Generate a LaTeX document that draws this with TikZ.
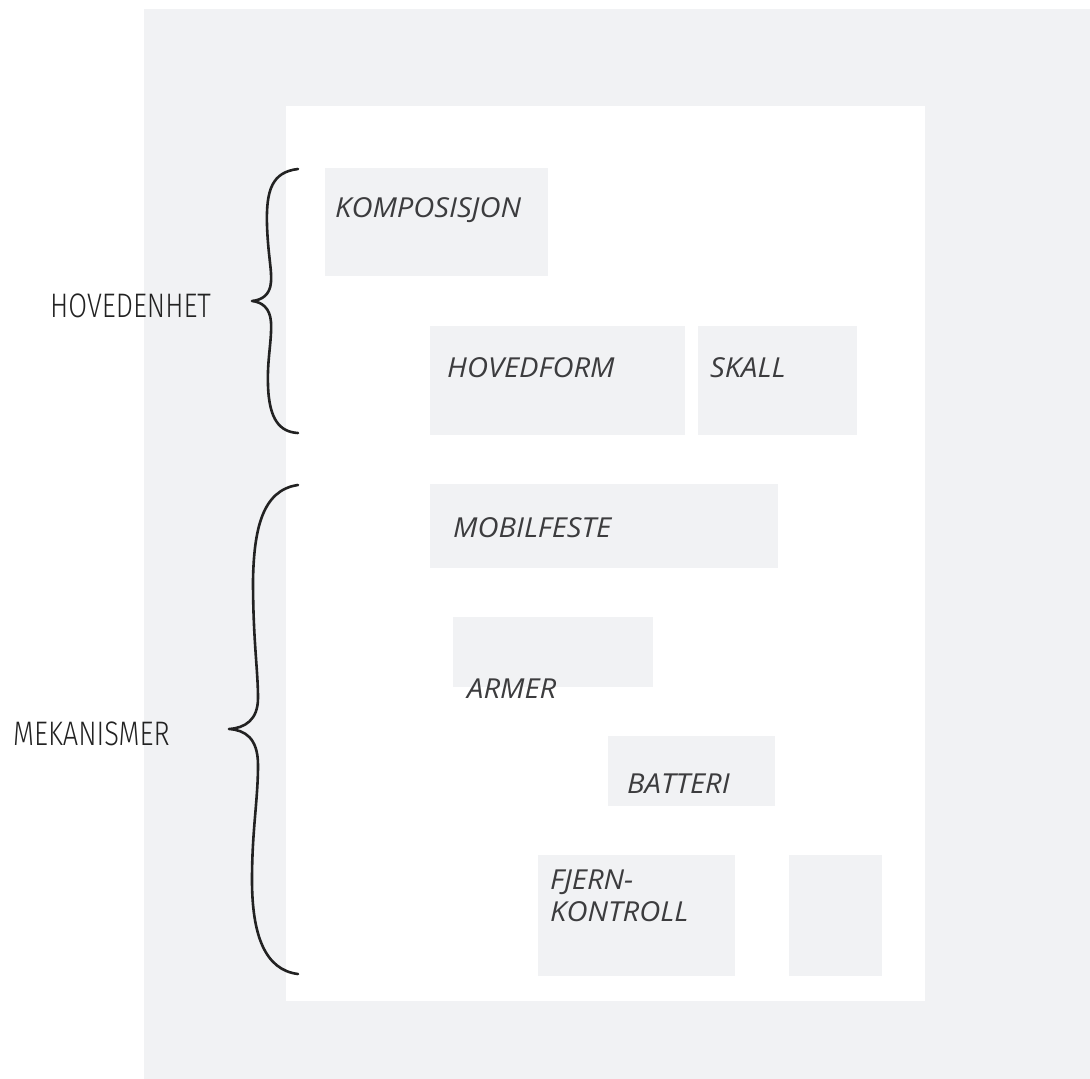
\documentclass[tikz,border=0pt]{standalone}
\usepackage{fontspec}
\setmainfont{Open Sans}
\newfontfamily\tagfont[FakeStretch=1.06]{Open Sans}
\IfFontExistsTF{Fira Sans Light}
  {\newfontfamily\handfont[FakeStretch=0.80]{Fira Sans Light}}
  {\newfontfamily\handfont[FakeStretch=0.80]{Fira Sans}}
\definecolor{panel}{HTML}{F1F2F4}
\definecolor{ink}{HTML}{3C3C3E}
\definecolor{pen}{HTML}{222222}
\begin{document}
\begin{tikzpicture}[x=1pt,y=-1pt,
  block/.style={fill=panel,draw=none,inner sep=0pt,anchor=north west},
  tag/.style={inner sep=0pt,anchor=base west,text=ink,
    font=\tagfont\fontsize{27.5}{33}\selectfont\itshape},
  group/.style={inner sep=0pt,anchor=base west,text=pen,
    font=\handfont\fontsize{34}{40}\selectfont},
  brace/.style={draw=pen,line width=2.6pt,line cap=round,line join=round}]
\useasboundingbox (0,0) rectangle (1090,1079);
% background panels
\fill[panel] (144,9) rectangle (1090,1079);
\fill[white] (286,106) rectangle (925,1001);
% component blocks
\node[block,minimum width=223pt,minimum height=108pt] (komp) at (325,168) {};
\node[block,minimum width=255pt,minimum height=109pt] (form) at (430,326) {};
\node[block,minimum width=159pt,minimum height=109pt] (skall) at (698,326) {};
\node[block,minimum width=348pt,minimum height=84pt] (mobil) at (430,484) {};
\node[block,minimum width=200pt,minimum height=70pt] (armer) at (453,617) {};
\node[block,minimum width=167pt,minimum height=70pt] (batt) at (608,736) {};
\node[block,minimum width=197pt,minimum height=121pt] (fjern) at (538,855) {};
\node[block,minimum width=93pt,minimum height=121pt] (blank) at (789,855) {};
% block labels
\node[tag] (kompT) at (335,217) {KOMPOSISJON};
\node[tag] (formT) at (447,377) {HOVEDFORM};
\node[tag] (skallT) at (710,377) {SKALL};
\node[tag] (mobilT) at (453,537) {MOBILFESTE};
\node[tag] (armerT) at (467,698) {ARMER};
\node[tag] (battT) at (627,793) {BATTERI};
\node[tag] (fjernT1) at (550,889) {FJERN-};
\node[tag] (fjernT2) at (550,921) {KONTROLL};
% group labels
\node[group] (hoved) at (50,317) {HOVEDENHET};
\node[group] (mek) at (13,745) {MEKANISMER};
% braces
\coordinate (hA) at (298,169);
\coordinate (hT) at (252,301);
\coordinate (hB) at (298,433);
\draw[brace] (hA) .. controls (272,172) and (266,190) .. (267,225)
  .. controls (268,255) and (272,270) .. (271,282)
  .. controls (270,295) and (262,300) .. (hT)
  .. controls (262,302) and (270,308) .. (271,322)
  .. controls (272,340) and (267,360) .. (268,385)
  .. controls (269,420) and (280,432) .. (hB);
\coordinate (mA) at (298,485);
\coordinate (mT) at (229,729);
\coordinate (mB) at (298,974);
\draw[brace] (mA) .. controls (262,490) and (254,530) .. (253,580)
  .. controls (253,640) and (258,670) .. (258,698)
  .. controls (258,720) and (245,728) .. (mT)
  .. controls (245,730) and (258,738) .. (258,765)
  .. controls (258,800) and (252,830) .. (252,880)
  .. controls (252,935) and (265,970) .. (mB);
\end{tikzpicture}
\end{document}
